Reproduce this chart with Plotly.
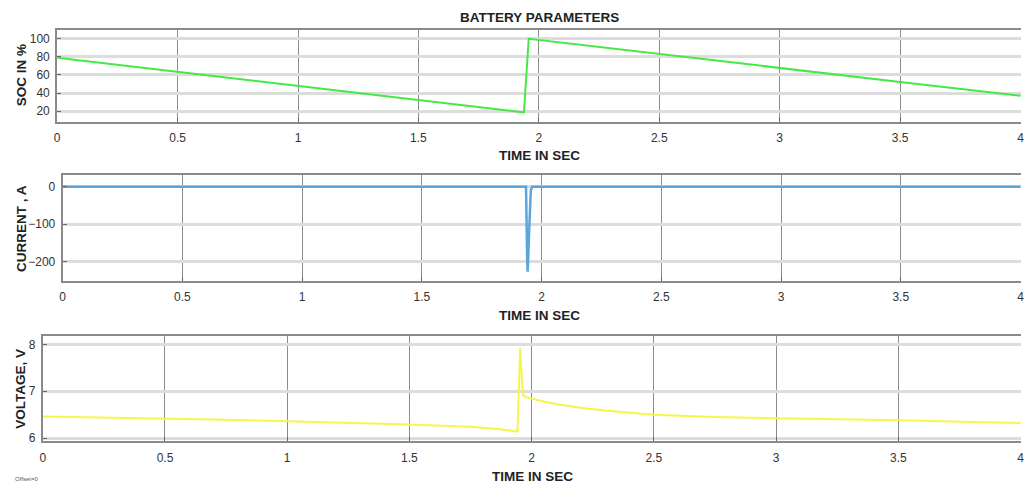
import plotly.graph_objects as go

# ---- data ----
soc_t = [0, 0.5, 1.0, 1.5, 1.938, 1.958, 2.5, 3.0, 3.5, 4.0]
soc_v = [79, 63.5, 47.8, 32, 18.5, 100, 83, 67.5, 52.3, 37]

cur_t = [0, 1.935, 1.940, 1.942, 1.948, 1.955, 1.960, 4.0]
cur_v = [0, 0, -200, -228, -120, -10, 0, 0]

volt_t = [0, 0.25, 0.5, 0.75, 1.0, 1.25, 1.5, 1.75, 1.85, 1.942, 1.953, 1.962,
          1.967, 1.98, 2.0, 2.05, 2.1, 2.2, 2.3, 2.5, 2.75, 3.0, 3.25, 3.5, 3.75, 4.0]
volt_v = [6.46, 6.44, 6.42, 6.39, 6.36, 6.33, 6.29, 6.24, 6.20, 6.14, 7.93, 7.1,
          6.9, 6.87, 6.84, 6.78, 6.73, 6.65, 6.59, 6.50, 6.45, 6.42, 6.40, 6.38, 6.35, 6.32]

x_ticks = [0, 0.5, 1, 1.5, 2, 2.5, 3, 3.5, 4]
x_ticklabels = ["0", "0.5", "1", "1.5", "2", "2.5", "3", "3.5", "4"]
soc_ticks = [20, 40, 60, 80, 100]
cur_ticks = [-200, -100, 0]
volt_ticks = [6, 7, 8]

title_text = "BATTERY PARAMETERS"
x_title = "TIME IN SEC"
y_titles = ["SOC IN %", "CURRENT , A", "VOLTAGE, V"]

W, H = 1024, 490
FONT = "Liberation Sans, Arial, sans-serif"

fig = go.Figure()
fig.add_trace(go.Scatter(x=soc_t, y=soc_v, mode="lines",
                         line=dict(color="#45e845", width=2), xaxis="x", yaxis="y"))
fig.add_trace(go.Scatter(x=cur_t, y=cur_v, mode="lines",
                         line=dict(color="#5aa5dc", width=2.5), xaxis="x2", yaxis="y2"))
fig.add_trace(go.Scatter(x=volt_t, y=volt_v, mode="lines",
                         line=dict(color="#f7f54a", width=2), xaxis="x3", yaxis="y3"))

def px_x(p):
    return p / W

def dom_y(top, bottom):
    return [1 - bottom / H, 1 - top / H]

common_x = dict(range=[0, 4.002], tickvals=x_ticks, ticktext=x_ticklabels,
                showgrid=True, gridcolor="#8c8c8c", gridwidth=1,
                showline=True, mirror=True, linecolor="#8a8a8a", linewidth=2,
                ticks="inside", ticklen=4, tickcolor="#666",
                zeroline=False, tickfont=dict(family=FONT, size=12, color="#333"),
                ticklabelstandoff=4, ticklabeloverflow="allow")
common_y = dict(showgrid=True, gridcolor="#dcdcdc", gridwidth=2.5,
                showline=True, mirror=False, linecolor="#8a8a8a", linewidth=2,
                ticks="inside", ticklen=4, tickcolor="#666",
                zeroline=False, tickfont=dict(family=FONT, size=12, color="#333"),
                ticklabelstandoff=3)

fig.update_layout(
    width=W, height=H,
    margin=dict(l=0, r=0, t=0, b=0),
    paper_bgcolor="white", plot_bgcolor="white",
    showlegend=False,
    xaxis=dict(domain=[px_x(54.5), 1], anchor="y", **common_x),
    yaxis=dict(domain=dom_y(30, 122.7), anchor="x", range=[8.3, 110],
               tickvals=soc_ticks, **common_y),
    xaxis2=dict(domain=[px_x(60), 1], anchor="y2", **common_x),
    yaxis2=dict(domain=dom_y(176, 283), anchor="x2", range=[-252, 33],
                tickvals=cur_ticks, **common_y),
    xaxis3=dict(domain=[px_x(40), 1], anchor="y3", **common_x),
    yaxis3=dict(domain=dom_y(338.3, 445), anchor="x3", range=[5.93, 8.19],
                tickvals=volt_ticks, **common_y),
)

tfont = dict(family=FONT, size=13.5, color="#222")
ann = []
ann.append(dict(text="<b>%s</b>" % title_text, x=540 / W, y=1 - 18 / H, xref="paper", yref="paper",
                showarrow=False, font=tfont, xanchor="center", yanchor="middle"))
for xc, yc in [(540, 157), (540, 318), (533, 480)]:
    ann.append(dict(text="<b>%s</b>" % x_title, x=xc / W, y=1 - yc / H, xref="paper", yref="paper",
                    showarrow=False, font=tfont, xanchor="center", yanchor="middle"))
for txt, yc in zip(y_titles, [76, 230, 392]):
    ann.append(dict(text="<b>%s</b>" % txt, x=18 / W, y=1 - yc / H, xref="paper", yref="paper",
                    showarrow=False, font=tfont, textangle=-90, xanchor="center", yanchor="middle"))
ann.append(dict(text="Offset=0", x=10 / W, y=1 - 483 / H, xref="paper", yref="paper",
                showarrow=False, font=dict(family=FONT, size=6, color="#555"),
                xanchor="left", yanchor="middle"))
fig.update_layout(annotations=ann)

fig.write_html("out.html")
